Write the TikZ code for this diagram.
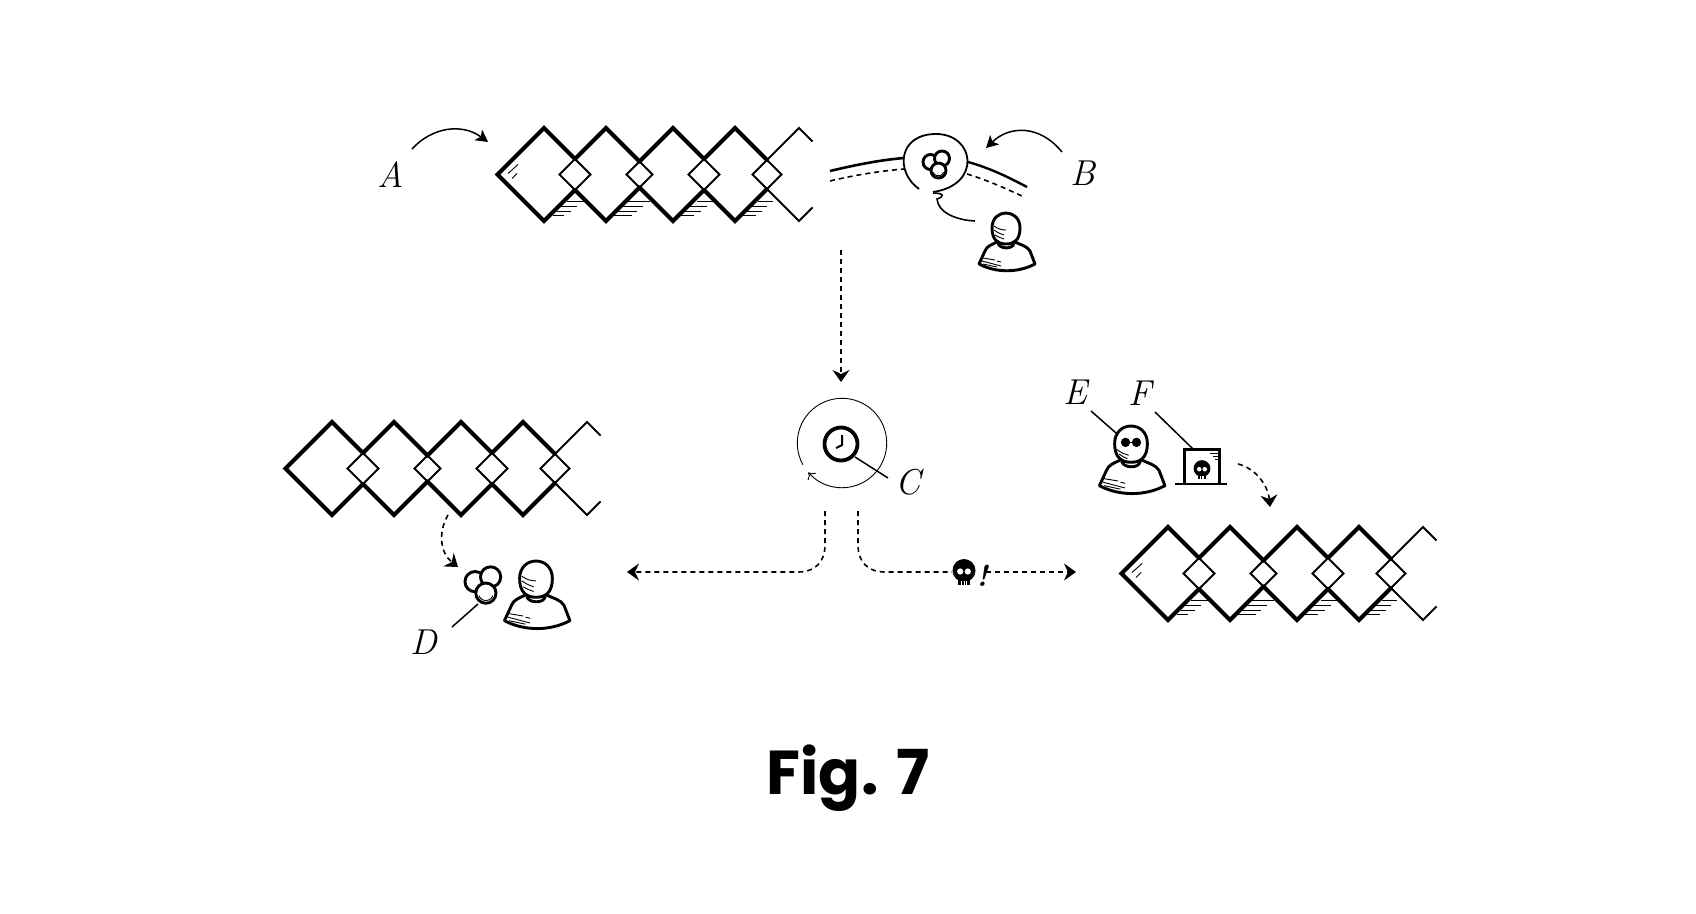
\documentclass[tikz,border=0pt]{standalone}
\usepackage{fontspec}
\usetikzlibrary{arrows.meta}
\newfontfamily\captionfont{Poppins}
\newcommand{\personbody}{
  \draw[icon] (-9,29) .. controls (-15,32) and (-19,33) .. (-21,38) -- (-27,51)
    .. controls (-10,60) and (12,60) .. (29,51) -- (24,38)
    .. controls (21,33) and (15,32) .. (9,29);
  \draw[icon] (-8,30) .. controls (-7,36) and (7,37) .. (8,30);
  \draw[icon,fill=white] (-14,15) .. controls (-14,-5) and (14,-5) .. (14,15)
    .. controls (14,27) and (8,31) .. (0,31) .. controls (-8,31) and (-14,27) .. (-14,15) -- cycle;
  \draw[hatch] (-23,45) -- (-11,47) (-9,48) -- (-5,49) (-24,48) -- (-5,53) (-23,51) -- (-9,54);
}
\tikzset{
thickline/.style={line width=4pt,line cap=round,line join=miter},
thinline/.style={line width=1.9pt,line join=miter},
icon/.style={line width=2.9pt,line join=round},
hatch/.style={line width=0.9pt},
shade/.style={line width=1.1pt},
leader/.style={line width=1.5pt},
bent/.style={line width=1.5pt},
flow/.style={line width=1.6pt,dash pattern=on 5pt off 4pt,-{Stealth[length=12pt,width=17pt,inset=4pt]}},
flowplain/.style={line width=1.6pt,dash pattern=on 5pt off 4pt},
tag/.style={inner sep=0pt,font=\fontsize{36}{40}\selectfont\itshape},
% one strip of diamonds, the last one cut off
strip/.pic={
  \foreach \c in {0,62,129,191}
    \draw[thinline] (\c-46.5,0) -- (\c,-46.5) -- (\c+46.5,0) -- (\c,46.5) -- cycle;
  \draw[thinline] (268.5,-33) -- (255,-46.5) -- (208.5,0) -- (255,46.5) -- (268.5,33);
  \draw[thickline] (31,-15.5) -- (0,-46.5) -- (-46.5,0) -- (0,46.5) -- (31,15.5);
  \foreach \p/\c/\n in {0/62/129,62/129/191,129/191/255}
  {
    \pgfmathsetmacro{\a}{(\p+\c)/2}
    \pgfmathsetmacro{\da}{46.5-(\c-\p)/2}
    \pgfmathsetmacro{\m}{(\c+\n)/2}
    \pgfmathsetmacro{\dm}{46.5-(\n-\c)/2}
    \draw[thickline] (\a,-\da) -- (\c,-46.5) -- (\m,-\dm);
    \draw[thickline] (\a,\da) -- (\c,46.5) -- (\m,\dm);
  }
},
stripshade/.pic={
  \draw[hatch] (-36,-1) -- (-26,-10) (-32,4) -- (-27,-1);
  \foreach \c/\ao/\bo/\at/\bt/\ah/\bh/\af/\bf in
    {0/23/43/16/33/13/27/9/20,62/22/44/16/37/11/31/7/26,129/24/40/17/34/12/28/7/21,191/23/38/15/32/10/27/7/21}
  {
    \draw[shade] (\c+\ao,27) -- (\c+\bo,27) (\c+\at,32) -- (\c+\bt,32)
      (\c+\ah,37) -- (\c+\bh,37) (\c+\af,41) -- (\c+\bf,41);
  }
},
person/.pic={
  \personbody
  \draw[hatch] (-12,13) .. controls (-8,16) and (-4,17) .. (0,17)
    (-12,17) .. controls (-8,20) and (-5,21) .. (-2,22)
    (-11,22) .. controls (-8,24) and (-5,25) .. (-2,26);
},
guard/.pic={
  \personbody
  \fill (-4.7,14) circle (4) (4.7,14) circle (4);
  \draw[line width=1.2pt] (-4.7,14) -- (4.7,14);
  \draw[hatch] (-12,20) .. controls (-9,23) and (-5,24) .. (-2,25)
    (-10,24) .. controls (-8,26) and (-5,27) .. (-3,28);
},
skull/.pic={
  \fill (-6,2) -- (6,2) -- (6,14.5) -- (-6,14.5) -- cycle;
  \fill (0,0) circle (11.5);
  \fill[white] (-3.8,1) circle (3.1) (3.8,1) circle (3.1);
  \draw[white,line width=0.7pt] (-2.5,10.5) -- (-2.5,14.5) (0,10.5) -- (0,14.5) (2.5,10.5) -- (2.5,14.5);
},
berries/.pic={
  \draw[icon,fill=white] (-5.5,-1) circle (7.5);
  \draw[icon,fill=white] (6,-4.5) circle (7.5);
  \draw[icon,fill=white] (2.5,7.5) circle (7.5);
  \draw[hatch] (2.5,7.5) ++(20:5.5) arc (20:160:5.5);
}
}
\begin{document}
\begin{tikzpicture}[x=1pt,y=-1pt]
\useasboundingbox (0,0) rectangle (1696,913);
% top row
\pic at (544,174.5) {strip};
\pic at (544,174.5) {stripshade};
\node[tag] (lblA) at (391,175) {A};
\coordinate (fromA) at (412,149);
\coordinate (toA) at (488,142);
\draw[bent,-{Stealth[length=12pt,width=13pt,inset=3pt]}] (fromA) .. controls (432,127) and (462,123) .. (toA);
\draw[line width=2.6pt] (830,171) .. controls (855,165) and (880,160) .. (904,158);
\draw[flowplain] (830,181) .. controls (855,175) and (880,171) .. (904,169);
\draw[line width=2.4pt] (968,162) .. controls (990,168) and (1010,178) .. (1027,187);
\draw[flowplain] (967,174) .. controls (987,180) and (1007,189) .. (1024,197);
\draw[line width=1.8pt] (919,189) .. controls (895,172) and (898,134) .. (936,134)
  .. controls (975,134) and (982,185) .. (933,192);
\draw[line width=1.6pt] (933,193) .. controls (945,193) and (944,197) .. (937,199)
  .. controls (938,212) and (955,220) .. (975,221);
\pic at (936,163) {berries};
\node[tag] (lblB) at (1083,173) {B};
\coordinate (fromB) at (1062,152);
\coordinate (toB) at (986,148);
\draw[bent,-{Stealth[length=12pt,width=13pt,inset=3pt]}] (fromB) .. controls (1040,125) and (1010,125) .. (toB);
\pic at (1006,213) {person};
\coordinate (stripbase) at (841,250);
\coordinate (clocktop) at (841,382);
\draw[flow] (stripbase) -- (clocktop);
% clock
\coordinate (dial) at (842,443);
\draw[line width=0.9pt,-{To[length=6pt,width=11pt]}] (dial) ++(151:44.7) arc (151:499:44.7);
\draw[line width=3.8pt] (841,444) circle (16.5);
\draw[line width=2pt] (842,435) -- (842,445) -- (836,448);
\node[tag] (lblC) at (908,482) {C};
\coordinate (tagC) at (888,478);
\coordinate (handle) at (855,457);
\draw[leader] (handle) -- (tagC);
% branches
\coordinate (forkL) at (825,511);
\coordinate (forkR) at (858,511);
\coordinate (outL) at (627,572);
\coordinate (outR) at (1076,572);
\draw[flow] (forkL) -- (825,545) .. controls (825,562) and (815,572) .. (798,572) -- (outL);
\pic (skullmid) at (964,570.5) {skull};
\draw[flowplain] (forkR) -- (858,545) .. controls (858,562) and (868,572) .. (885,572) -- (952,572);
\draw[flow] (986,572) -- (outR);
\node[inner sep=0pt,font=\fontsize{30}{30}\selectfont\bfseries\itshape] (bang) at (982,576) {!};
% left strip
\pic at (332,468.5) {strip};
\coordinate (leftout) at (448,515);
\coordinate (berryin) at (458,567);
\draw[flow] (leftout) .. controls (438,532) and (440,553) .. (berryin);
\pic at (482.5,583) [scale=1.35] {berries};
\pic at (536,561) [scale=1.17] {person};
\node[tag] (lblD) at (424,642) {D};
\coordinate (tagD) at (452,627);
\coordinate (berrystem) at (478,604);
\draw[leader] (tagD) -- (berrystem);
% right strip
\pic at (1168,573.5) {strip};
\pic at (1168,573.5) {stripshade};
\pic at (1131,426) [scale=1.17] {guard};
\node[tag] (lblE) at (1075,392) {E};
\coordinate (tagE) at (1091,411);
\coordinate (headE) at (1116,433);
\draw[leader] (tagE) -- (headE);
\node[tag] (lblF) at (1140,393) {F};
\coordinate (tagF) at (1155,412);
\coordinate (boxF) at (1193,449);
\draw[leader] (tagF) -- (boxF);
\draw[line width=3pt] (1184,484) -- (1184,449) -- (1219,449) -- (1219,484);
\draw[line width=1.2pt] (1175,484) -- (1227,484);
\draw[hatch] (1210,453) -- (1218,453) (1213,456) -- (1218,456) (1215,459) -- (1218,459);
\pic at (1202,468.5) [scale=0.73] {skull};
\coordinate (boxout) at (1238,464);
\coordinate (stripin) at (1270,507);
\draw[flow] (boxout) .. controls (1255,468) and (1268,485) .. (stripin);
% caption
\node[inner sep=0pt,anchor=base,font=\captionfont\bfseries\fontsize{62}{70}\selectfont] (caption) at (848,794) {Fig. 7};
\end{tikzpicture}
\end{document}
